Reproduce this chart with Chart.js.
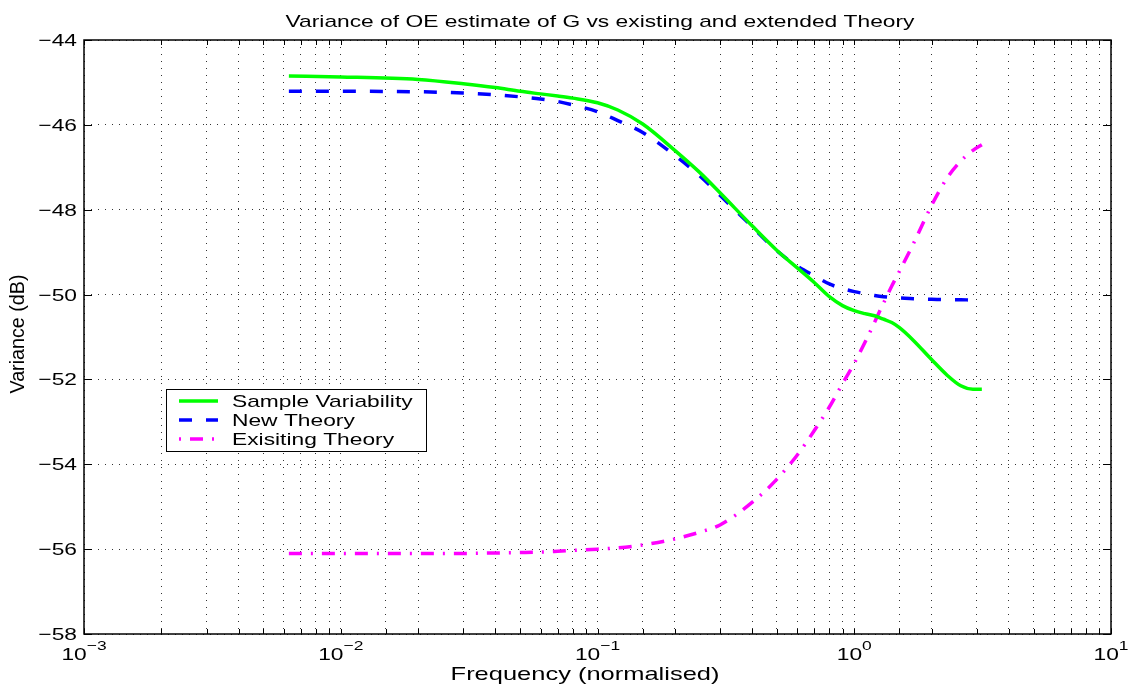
<!DOCTYPE html>
<html>
<head>
<meta charset="utf-8">
<script src="https://cdn.jsdelivr.net/npm/chart.js@4/dist/chart.umd.min.js"></script>
<style>
  html, body { margin: 0; padding: 0; background: #fff; }
  #wrap { width: 1130px; height: 685px; }
</style>
</head>
<body>
<div id="wrap"><canvas id="chart" width="1130" height="685"></canvas></div>
<script>
// data
const freq = [0.00628, 0.01, 0.02, 0.03, 0.04, 0.05, 0.06, 0.07, 0.08, 0.1, 0.12, 0.15, 0.2, 0.25, 0.3, 0.4, 0.5,
              0.6, 0.7, 0.8, 0.9, 1.0, 1.1, 1.2, 1.3, 1.4, 1.5, 1.7, 2.0, 2.3, 2.6, 2.9, 3.14];
const sampleVariability = [-44.85, -44.87, -44.93, -45.03, -45.12, -45.21, -45.27, -45.32, -45.37, -45.48, -45.65,
                           -45.98, -46.6, -47.12, -47.6, -48.38, -48.96, -49.37, -49.72, -50.05, -50.26, -50.38,
                           -50.45, -50.5, -50.58, -50.66, -50.78, -51.08, -51.53, -51.9, -52.15, -52.23, -52.23];
const newTheory = [-45.21, -45.21, -45.22, -45.25, -45.29, -45.34, -45.39, -45.45, -45.53, -45.69, -45.9, -46.18,
                   -46.72, -47.2, -47.66, -48.4, -48.97, -49.33, -49.56, -49.75, -49.86, -49.93, -49.98, -50.02,
                   -50.05, -50.07, -50.08, -50.1, -50.11, -50.12, -50.12, -50.13, -50.13];
const existingTheory = [-56.1, -56.1, -56.1, -56.1, -56.09, -56.08, -56.07, -56.05, -56.03, -56.0, -55.97, -55.9,
                        -55.76, -55.6, -55.43, -54.9, -54.35, -53.78, -53.2, -52.65, -52.1, -51.62, -51.13, -50.65,
                        -50.2, -49.8, -49.45, -48.8, -47.9, -47.25, -46.85, -46.6, -46.47];
const seriesNames = ['Sample Variability', 'New Theory', 'Exisiting Theory'];
const yTicks = [-58, -56, -54, -52, -50, -48, -46, -44];
const xExponents = [-3, -2, -1, 0, 1];

const title = 'Variance of OE estimate of G vs existing and extended Theory';
const xLabel = 'Frequency (normalised)';
const yLabel = 'Variance (dB)';

// the original figure was stretched sideways, so its text is too
const STRETCH = 1.34;
const FONT = '"Liberation Sans", Arial, Helvetica, sans-serif';

const colors = ['#00ff00', '#0000ff', '#ff00ff'];
const dashes = [[], [13, 14], [13, 9, 2, 9]];

function wideText(ctx, text, x, y, size, align) {
    ctx.save();
    ctx.font = size + 'px ' + FONT;
    const w = ctx.measureText(text).width * STRETCH;
    let left = x;
    if (align === 'center') left = x - w / 2;
    if (align === 'right') left = x - w;
    ctx.translate(left, y);
    ctx.scale(STRETCH, 1);
    ctx.textAlign = 'left';
    ctx.textBaseline = 'alphabetic';
    ctx.fillStyle = '#000';
    ctx.fillText(text, 0, 0);
    ctx.restore();
    return w;
}

function textWidth(ctx, text, size) {
    ctx.save();
    ctx.font = size + 'px ' + FONT;
    const w = ctx.measureText(text).width * STRETCH;
    ctx.restore();
    return w;
}

const matlabLook = {
    id: 'matlabLook',
    afterDraw(chart) {
        const ctx = chart.ctx;
        const area = chart.chartArea;
        const xs = chart.scales.x;
        const ys = chart.scales.y;

        // small inner tick marks on all four sides
        ctx.save();
        ctx.strokeStyle = '#000';
        ctx.lineWidth = 1;
        ctx.beginPath();
        xs.ticks.forEach(t => {
            const px = Math.round(xs.getPixelForValue(t.value)) + 0.5;
            ctx.moveTo(px, area.bottom); ctx.lineTo(px, area.bottom - 5);
            ctx.moveTo(px, area.top); ctx.lineTo(px, area.top + 5);
        });
        yTicks.forEach(v => {
            const py = Math.round(ys.getPixelForValue(v)) + 0.5;
            ctx.moveTo(area.left, py); ctx.lineTo(area.left + 8, py);
            ctx.moveTo(area.right, py); ctx.lineTo(area.right - 8, py);
        });
        ctx.stroke();
        ctx.lineWidth = 1.5;
        ctx.strokeRect(area.left, area.top, area.right - area.left, area.bottom - area.top);
        ctx.restore();

        // tick labels
        yTicks.forEach(v => {
            const py = ys.getPixelForValue(v);
            wideText(ctx, '\u2212' + Math.abs(v), area.left - 7, py + 6, 17, 'right');
        });
        xExponents.forEach(e => {
            const px = xs.getPixelForValue(Math.pow(10, e));
            const exp = e < 0 ? '\u2212' + Math.abs(e) : String(e);
            const w1 = textWidth(ctx, '10', 17);
            const w2 = textWidth(ctx, exp, 13);
            const left = px - (w1 + w2) / 2;
            wideText(ctx, '10', left, 660, 17, 'left');
            wideText(ctx, exp, left + w1, 650, 13, 'left');
        });

        // title and axis labels
        wideText(ctx, title, 600, 27, 17, 'center');
        wideText(ctx, xLabel, 585, 680, 19, 'center');
        ctx.save();
        ctx.translate(24, 334);
        ctx.rotate(-Math.PI / 2);
        ctx.font = '17px ' + FONT;
        ctx.scale(1.16, STRETCH * 0.9);
        ctx.textAlign = 'center';
        ctx.fillStyle = '#000';
        ctx.fillText(yLabel, 0, 0);
        ctx.restore();

        // legend box
        const box = { left: 166.5, top: 389.5, width: 260, height: 62 };
        ctx.save();
        ctx.fillStyle = '#fff';
        ctx.fillRect(box.left, box.top, box.width, box.height);
        ctx.strokeStyle = '#000';
        ctx.lineWidth = 1;
        ctx.strokeRect(box.left, box.top, box.width, box.height);
        seriesNames.forEach((name, i) => {
            const cy = 401 + i * 19;
            ctx.save();
            ctx.strokeStyle = colors[i];
            ctx.lineWidth = 3.5;
            ctx.setLineDash(i === 2 ? [2, 9, 13, 9] : dashes[i]);
            ctx.beginPath();
            ctx.moveTo(179, cy);
            ctx.lineTo(218, cy);
            ctx.stroke();
            ctx.restore();
            wideText(ctx, name, 232, cy + 6, 17, 'left');
        });
        ctx.restore();
    }
};

const series = [sampleVariability, newTheory, existingTheory];

new Chart(document.getElementById('chart').getContext('2d'), {
    type: 'line',
    data: {
        datasets: series.map((vals, i) => ({
            label: seriesNames[i],
            data: freq.map((f, j) => ({ x: f, y: vals[j] })),
            borderColor: colors[i],
            borderWidth: 3.5,
            borderDash: dashes[i],
            pointRadius: 0,
            fill: false,
            cubicInterpolationMode: 'monotone'
        }))
    },
    options: {
        responsive: false,
        animation: false,
        devicePixelRatio: 1,
        layout: { padding: { left: 84, top: 40, right: 19, bottom: 51 } },
        scales: {
            x: {
                type: 'logarithmic',
                min: 0.001,
                max: 10,
                ticks: { display: false },
                grid: { color: 'rgba(0,0,0,0.8)', lineWidth: 1, drawTicks: false },
                border: { display: false, dash: [1, 6] }
            },
            y: {
                type: 'linear',
                min: -58,
                max: -44,
                ticks: { display: false, stepSize: 2 },
                grid: { color: 'rgba(0,0,0,0.8)', lineWidth: 1, drawTicks: false },
                border: { display: false, dash: [1, 6] }
            }
        },
        plugins: {
            legend: { display: false },
            title: { display: false },
            tooltip: { enabled: false }
        }
    },
    plugins: [matlabLook]
});
</script>
</body>
</html>
